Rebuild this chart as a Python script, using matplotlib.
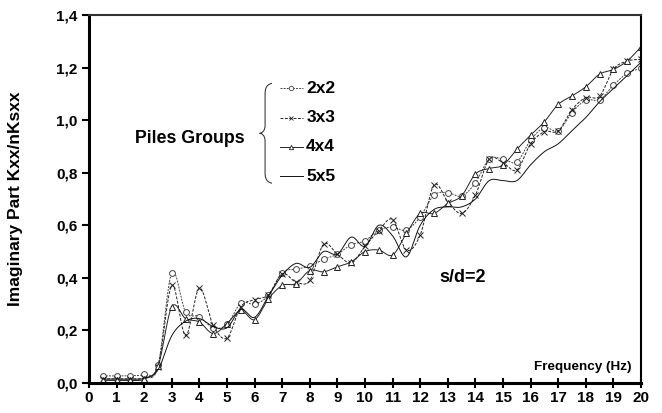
import numpy as np
import matplotlib
matplotlib.use("agg")
import matplotlib.pyplot as plt
from matplotlib.path import Path
from matplotlib.patches import PathPatch

plt.rcParams['font.family'] = ['Liberation Sans', 'DejaVu Sans']
plt.rcParams['font.weight'] = 'bold'

# frequency steps (Hz)
freq = np.arange(0.5, 20.01, 0.5)

# imaginary part of horizontal group stiffness, normalised Kxx / (n Ksxx)
g2x2 = [0.027, 0.027, 0.028, 0.033, 0.067, 0.420, 0.270, 0.253, 0.210, 0.223,
        0.304, 0.300, 0.333, 0.420, 0.433, 0.444, 0.470, 0.490, 0.526, 0.541,
        0.582, 0.592, 0.582, 0.632, 0.715, 0.724, 0.711, 0.762, 0.852, 0.852,
        0.841, 0.924, 0.972, 0.959, 1.029, 1.076, 1.078, 1.133, 1.178, 1.197]
g3x3 = [0.016, 0.016, 0.016, 0.020, 0.060, 0.371, 0.181, 0.361, 0.219, 0.171,
        0.290, 0.317, 0.336, 0.416, 0.384, 0.390, 0.528, 0.490, 0.457, 0.520,
        0.580, 0.622, 0.506, 0.563, 0.753, 0.690, 0.645, 0.715, 0.852, 0.838,
        0.810, 0.910, 0.956, 0.959, 1.040, 1.086, 1.091, 1.193, 1.225, 1.231]
g4x4 = [0.010, 0.010, 0.010, 0.015, 0.063, 0.290, 0.245, 0.232, 0.188, 0.226,
        0.276, 0.241, 0.320, 0.371, 0.378, 0.428, 0.423, 0.442, 0.461, 0.500,
        0.506, 0.487, 0.569, 0.645, 0.645, 0.683, 0.712, 0.795, 0.816, 0.829,
        0.889, 0.943, 0.994, 1.060, 1.092, 1.127, 1.175, 1.193, 1.225, 1.279]
g5x5 = [0.015, 0.015, 0.015, 0.018, 0.050, 0.180, 0.235, 0.245, 0.215, 0.210,
        0.280, 0.250, 0.330, 0.410, 0.455, 0.440, 0.500, 0.490, 0.555, 0.520,
        0.600, 0.560, 0.480, 0.600, 0.660, 0.670, 0.670, 0.700, 0.770, 0.770,
        0.770, 0.830, 0.880, 0.910, 0.960, 1.010, 1.070, 1.120, 1.170, 1.220]

labels = ["2x2", "3x3", "4x4", "5x5"]
yticks = [0.0, 0.2, 0.4, 0.6, 0.8, 1.0, 1.2, 1.4]


def smooth(x, y, n=16):
    # spreadsheet-style smoothed line: cubic Bezier through each point
    x = np.asarray(x, float)
    y = np.asarray(y, float)
    px = np.concatenate([[x[0]], x, [x[-1]]])
    py = np.concatenate([[y[0]], y, [y[-1]]])
    t = np.linspace(0, 1, n, endpoint=False)[:, None]
    xs, ys = [], []
    for i in range(1, len(px) - 2):
        p0 = np.array([px[i], py[i]])
        p3 = np.array([px[i + 1], py[i + 1]])
        c1 = p0 + (np.array([px[i + 1], py[i + 1]]) - np.array([px[i - 1], py[i - 1]])) / 6
        c2 = p3 - (np.array([px[i + 2], py[i + 2]]) - np.array([px[i], py[i]])) / 6
        b = ((1 - t) ** 3) * p0 + 3 * ((1 - t) ** 2) * t * c1 \
            + 3 * (1 - t) * t ** 2 * c2 + t ** 3 * p3
        xs.append(b[:, 0])
        ys.append(b[:, 1])
    xs.append([x[-1]])
    ys.append([y[-1]])
    return np.concatenate(xs), np.concatenate(ys)


fig = plt.figure(figsize=(6.62, 4.13), dpi=100)
ax = fig.add_axes([0.1344, 0.0726, 0.8339, 0.8911])

styles = [
    dict(ls=(0, (2, 1.2)), color="#444444", marker="o", ms=4.2),
    dict(ls=(0, (3, 1.5)), color="#222222", marker="x", ms=4.0),
    dict(ls="-", color="#222222", marker="^", ms=4.2),
    dict(ls="-", color="#111111", marker=None, ms=0),
]
series = [g2x2, g3x3, g4x4, g5x5]

for vals, st in zip(series, styles):
    sx, sy = smooth(freq, vals)
    ax.plot(sx, sy, ls=st["ls"], color=st["color"], lw=0.7)
    if st["marker"]:
        ax.plot(freq, vals, ls="none", marker=st["marker"], ms=st["ms"],
                mfc="white" if st["marker"] != "x" else st["color"],
                mec=st["color"], mew=0.7)

ax.set_xlim(0, 20)
ax.set_ylim(0, 1.4)
ax.set_xticks(range(0, 21))
ax.set_yticks(yticks)
ax.set_yticklabels([f"{v:.1f}".replace(".", ",") for v in yticks])
ax.tick_params(axis="x", direction="inout", length=7, width=1.5,
               labelsize=11, pad=2)
ax.tick_params(axis="y", direction="out", length=5, width=1.5,
               labelsize=11, pad=3)
for lab in ax.get_xticklabels() + ax.get_yticklabels():
    lab.set_fontweight("bold")

ax.spines["left"].set_linewidth(2.2)
ax.spines["bottom"].set_linewidth(2.2)
ax.spines["top"].set_linewidth(1.5)
ax.spines["right"].set_linewidth(1.5)
ax.spines["top"].set_color("#333333")

ax.set_ylabel("Imaginary Part Kxx/nKsxx", fontsize=12.5, fontweight="bold")
ax.yaxis.set_label_coords(-0.119, 0.5)
ax.text(19.67, 0.04, "Frequency (Hz)", ha="right", va="bottom",
        fontsize=9.7, fontweight="bold")
ax.text(13.55, 0.40, "s/d=2", ha="center", va="center",
        fontsize=13, fontweight="bold")

# legend entries beside the brace
leg_y = [1.122, 1.010, 0.898, 0.787]
x0, x1 = 6.92, 7.75
for yy, lab, st in zip(leg_y, labels, styles):
    ax.plot([x0, x1], [yy, yy], ls=st["ls"], color=st["color"], lw=0.7)
    if st["marker"]:
        ax.plot([(x0 + x1) / 2], [yy], ls="none", marker=st["marker"],
                ms=st["ms"] * 0.75,
                mfc="white" if st["marker"] != "x" else st["color"],
                mec=st["color"], mew=0.6)
    ax.text(x1 + 0.12, yy, lab, ha="left", va="center",
            fontsize=12.5, fontweight="bold")

ax.text(1.67, 0.93, "Piles Groups", ha="left", va="center",
        fontsize=12.8, fontweight="bold")

bx, tip = 6.38, 6.18
top, mid, bot = 1.14, 0.95, 0.76
verts = [(bx + 0.25, top), (bx, top - 0.005), (bx, top - 0.03), (bx, top - 0.04),
         (bx, mid + 0.03),
         (bx, mid + 0.005), (tip + 0.05, mid), (tip, mid),
         (tip + 0.05, mid), (bx, mid - 0.005), (bx, mid - 0.03),
         (bx, bot + 0.04),
         (bx, bot + 0.03), (bx, bot + 0.005), (bx + 0.25, bot)]
codes = [Path.MOVETO, Path.CURVE4, Path.CURVE4, Path.CURVE4,
         Path.LINETO,
         Path.CURVE4, Path.CURVE4, Path.CURVE4,
         Path.CURVE4, Path.CURVE4, Path.CURVE4,
         Path.LINETO,
         Path.CURVE4, Path.CURVE4, Path.CURVE4]
ax.add_patch(PathPatch(Path(verts, codes), fill=False, lw=0.7, color="#222222"))

fig.savefig("out.png", dpi=100)
